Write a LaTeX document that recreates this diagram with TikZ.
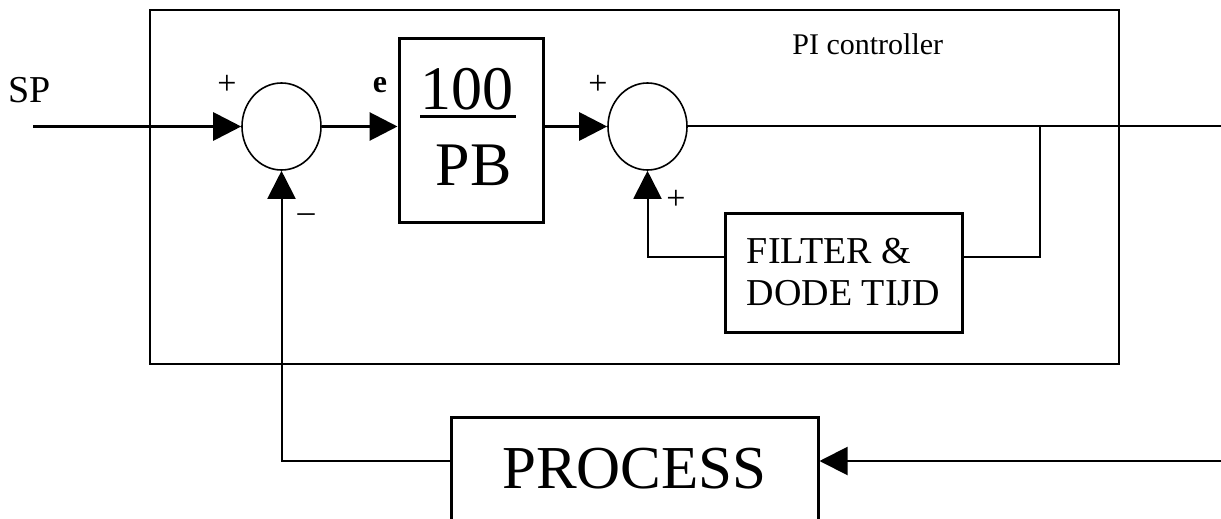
\documentclass[tikz,border=0pt]{standalone}
\usepackage{fontspec}
\setmainfont{Liberation Serif}
\usetikzlibrary{arrows.meta,shapes.geometric}
\begin{document}
\begin{tikzpicture}[x=0.5pt,y=-0.5pt,
  sumnode/.style={draw,ellipse,inner sep=0pt,minimum width=39.5pt,minimum height=43.5pt,line width=0.8pt},
  blk/.style={draw,rectangle,line width=1.5pt,inner sep=0pt},
  sig/.style={line width=1.5pt},
  thinsig/.style={line width=1pt},
  tip/.style={-{Triangle[length=14pt,width=14pt]}},
  lbl/.style={inner sep=0pt,font=\fontsize{15}{18}\selectfont},
  pls/.style={inner sep=0pt,font=\fontsize{17}{19}\selectfont},
]
\useasboundingbox (0,0) rectangle (1221,519);
% PI controller frame
\node[draw,line width=1.2pt,minimum width=484.5pt,minimum height=177pt,inner sep=0pt] (pi) at (634.5,187) {};
\node[lbl,anchor=base west] (pit) at (792,55) {PI controller};
% blocks
\node[sumnode] (s1) at (281.5,126.5) {};
\node[blk,minimum width=72pt,minimum height=91.5pt] (pb) at (471,130.5) {};
\node[anchor=base,inner sep=0pt,font=\fontsize{31}{31}\selectfont] (num) at (467,110) {100};
\draw[line width=1.5pt] (420,117) -- (516,117);
\node[anchor=base,inner sep=0pt,font=\fontsize{31}{31}\selectfont] (den) at (473.5,185) {PB};
\node[sumnode] (s2) at (647.5,126.5) {};
\node[blk,minimum width=118.5pt,minimum height=59.5pt,align=left,font=\fontsize{19}{21}\selectfont] (filt) at (843.5,272.5) {FILTER \&\\DODE TIJD};
\node[blk,minimum width=183.5pt,minimum height=60pt,text height=23pt,text depth=12pt,font=\fontsize{30.5}{32}\selectfont] (proc) at (634.5,477) {PROCESS};
% labels
\node[anchor=base west,inner sep=0pt,font=\fontsize{19}{21}\selectfont] (splbl) at (8,103) {SP};
\node[anchor=base,inner sep=0pt,font=\fontsize{16}{18}\selectfont\bfseries] (elbl) at (380,93) {e};
\node[pls] (p1) at (227,85) {+};
\node[pls] (p2) at (598,85) {+};
\node[pls] (p3) at (676,200) {+};
\node[pls,anchor=base] (m1) at (306,222) {–};
% connectors
\coordinate (sp) at (33,126.5);
\coordinate (out) at (1221,126.5);
\coordinate (br) at (1040,126.5);
\coordinate (fy) at (1040,257);
\coordinate (in) at (1221,461);
\draw[sig,tip] (sp) -- (s1.west);
\draw[sig,tip] (s1.east) -- (s1.east -| pb.west);
\draw[sig,tip] (s2.west -| pb.east) -- (s2.west);
\draw[thinsig] (s2.east) -- (out);
\draw[thinsig] (br) -- (fy) -- (filt.east |- fy);
\draw[thinsig,tip] (filt.west |- fy) -| (s2.south);
\draw[thinsig,tip] (in) -- (proc.east |- in);
\draw[thinsig,tip] (proc.west |- in) -| (s1.south);
\end{tikzpicture}
\end{document}
